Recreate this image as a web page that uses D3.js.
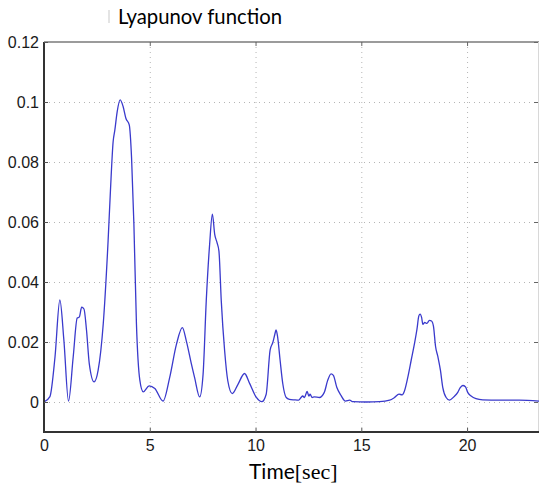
<!DOCTYPE html>
<html>
<head>
<meta charset="utf-8">
<script src="https://cdn.jsdelivr.net/npm/d3@7"></script>
<style>
  body { margin: 0; background: #fff; }
</style>
</head>
<body>
<div id="chart"></div>
<script>
// time (sec) and Lyapunov value
var timeValues = [0, 0.28, 0.52, 0.75, 0.94, 1.16, 1.38, 1.57, 1.67, 1.78, 1.89, 2.01, 2.14, 2.37, 2.56, 2.8,
    3.03, 3.14, 3.27, 3.35, 3.46, 3.6, 3.74, 3.87, 4.03, 4.14, 4.25, 4.37, 4.53, 4.69, 4.97, 5.24, 5.63,
    5.94, 6.26, 6.54, 6.73, 6.97, 7.12, 7.36, 7.52, 7.67, 7.83, 7.96, 8.07, 8.18, 8.27, 8.38, 8.54, 8.69,
    8.9, 9.17, 9.48, 9.72, 10.03, 10.3, 10.5, 10.69, 10.82, 10.91, 10.97, 11.04, 11.16, 11.29, 11.45, 11.6,
    11.84, 12.04, 12.15, 12.23, 12.31, 12.44, 12.52, 12.58, 12.67, 12.78, 13.02, 13.25, 13.41, 13.57, 13.68,
    13.84, 14.04, 14.25, 14.45, 14.6, 15.24, 15.86, 16.34, 16.57, 16.78, 16.93, 17.04, 17.2, 17.36, 17.52,
    17.63, 17.72, 17.78, 17.85, 17.91, 18.0, 18.1, 18.22, 18.32, 18.41, 18.51, 18.62, 18.74, 18.85, 19.01,
    19.17, 19.37, 19.56, 19.67, 19.8, 19.92, 20.03, 20.19, 20.42, 20.74, 21.53, 22.47, 23.41];

var lyapunovValues = [0, 0.0018, 0.015, 0.034, 0.0206, 0.0003, 0.015, 0.028, 0.0283, 0.0316, 0.031, 0.0239, 0.0128, 0.0067, 0.0106, 0.026,
    0.0537, 0.0703, 0.0869, 0.0907, 0.0968, 0.1007, 0.0985, 0.0946, 0.0924, 0.0813, 0.0592, 0.0261, 0.0073, 0.0034, 0.0054, 0.0045, 0.0003,
    0.0081, 0.0192, 0.0248, 0.0203, 0.0126, 0.0081, 0.0017, 0.0092, 0.0337, 0.0526, 0.0626, 0.0559, 0.0531, 0.0503, 0.0337, 0.017, 0.007,
    0.0028, 0.0059, 0.0095, 0.0062, 0.0016, 0.0001, 0.0025, 0.0174, 0.0199, 0.0225, 0.024, 0.0219, 0.014, 0.006, 0.0015, 0.0009,
    0.0007, 0.0006, 0.0015, 0.002, 0.0015, 0.0035, 0.002, 0.0026, 0.0015, 0.0017, 0.0015, 0.0032, 0.0072, 0.0094, 0.0089,
    0.0049, 0.0022, 0.0003, 0.0006, 0.0001, 0, 0.0001, 0.0006, 0.0015, 0.0026, 0.0024, 0.0037, 0.0083, 0.014, 0.0197,
    0.0242, 0.0287, 0.0293, 0.0282, 0.0259, 0.0265, 0.0262, 0.0272, 0.027, 0.0253, 0.0185, 0.0151, 0.0106, 0.0049, 0.0015,
    0.0006, 0.0017, 0.0032, 0.0047, 0.0055, 0.0051, 0.0032, 0.002, 0.0011, 0.0007, 0.0006, 0.0006, 0.0003];

var xTicks = [0, 5, 10, 15, 20];
var xTickLabels = ['0', '5', '10', '15', '20'];
var yTicks = [0, 0.02, 0.04, 0.06, 0.08, 0.1, 0.12];
var yTickLabels = ['0', '0.02', '0.04', '0.06', '0.08', '0.1', '0.12'];

var W = 539, H = 483;
var pLeft = 44, pRight = 539, pTop = 42, pBottom = 432;

var svg = d3.select('#chart')
    .append('svg')
    .attr('width', W)
    .attr('height', H);

var xScale = d3.scaleLinear()
    .domain([0, 23.4])
    .range([pLeft, pRight]);

var yScale = d3.scaleLinear()
    .domain([-0.01, 0.12])
    .range([pBottom, pTop]);

// dotted grid
var grid = svg.append('g');
grid.selectAll('.vgrid')
    .data(xTicks.slice(1))
    .enter()
    .append('line')
    .attr('x1', d => xScale(d) + 0.5)
    .attr('x2', d => xScale(d) + 0.5)
    .attr('y1', pTop)
    .attr('y2', pBottom)
    .attr('stroke', '#b5b5b5')
    .attr('stroke-width', 1)
    .attr('stroke-dasharray', '1,4');
grid.selectAll('.hgrid')
    .data(yTicks.slice(0, -1))
    .enter()
    .append('line')
    .attr('x1', pLeft)
    .attr('x2', pRight)
    .attr('y1', d => yScale(d) + 0.5)
    .attr('y2', d => yScale(d) + 0.5)
    .attr('stroke', '#b5b5b5')
    .attr('stroke-width', 1)
    .attr('stroke-dasharray', '1,4');

// frame top / right (lighter)
svg.append('line')
    .attr('x1', pLeft).attr('x2', pRight)
    .attr('y1', pTop).attr('y2', pTop)
    .attr('stroke', '#7a7a7a')
    .attr('stroke-width', 1.5);
svg.append('line')
    .attr('x1', pRight - 0.5).attr('x2', pRight - 0.5)
    .attr('y1', pTop).attr('y2', pBottom)
    .attr('stroke', '#d8d8d8')
    .attr('stroke-width', 1);

var topAxis = svg.append('g')
    .attr('transform', 'translate(0,' + pTop + ')')
    .call(d3.axisTop(xScale).tickValues(xTicks).tickSize(-4).tickSizeOuter(0).tickFormat(''));
var rightAxis = svg.append('g')
    .attr('transform', 'translate(' + (pRight - 1) + ',0)')
    .call(d3.axisRight(yScale).tickValues(yTicks).tickSize(-4).tickSizeOuter(0).tickFormat(''));
topAxis.select('.domain').remove();
rightAxis.select('.domain').remove();
topAxis.selectAll('line').attr('stroke', '#666');
rightAxis.selectAll('line').attr('stroke', '#666');

// curve
svg.append('clipPath')
    .attr('id', 'plotclip')
    .append('rect')
    .attr('x', pLeft)
    .attr('y', pTop)
    .attr('width', pRight - pLeft)
    .attr('height', pBottom - pTop);

var points = timeValues.map((t, i) => [t, lyapunovValues[i]]);

var line = d3.line()
    .x(d => xScale(d[0]))
    .y(d => yScale(d[1]))
    .curve(d3.curveMonotoneX);

svg.append('path')
    .datum(points)
    .attr('clip-path', 'url(#plotclip)')
    .attr('d', line)
    .attr('fill', 'none')
    .attr('stroke', '#3a3acc')
    .attr('stroke-width', 1.3);

// main axes
var xAxis = svg.append('g')
    .attr('transform', 'translate(0,' + pBottom + ')')
    .call(d3.axisBottom(xScale)
        .tickValues(xTicks)
        .tickFormat((d, i) => xTickLabels[i])
        .tickSize(-4)
        .tickSizeOuter(0)
        .tickPadding(8));

var yAxis = svg.append('g')
    .attr('transform', 'translate(' + pLeft + ',0)')
    .call(d3.axisLeft(yScale)
        .tickValues(yTicks)
        .tickFormat((d, i) => yTickLabels[i])
        .tickSize(-4)
        .tickSizeOuter(0)
        .tickPadding(5));

[xAxis, yAxis].forEach(function(ax) {
    ax.select('.domain')
        .attr('stroke', '#333')
        .attr('stroke-width', 2);
    ax.selectAll('.tick line').attr('stroke', '#555');
    ax.selectAll('text')
        .attr('font-family', '"Liberation Sans", Arial, sans-serif')
        .attr('font-size', '16px')
        .attr('fill', '#1a1a1a');
});
xAxis.select('.domain').attr('d', 'M' + (pLeft - 1) + ',0H' + pRight);
yAxis.select('.domain').attr('d', 'M0,' + pTop + 'V' + (pBottom + 1));

// title
svg.append('rect')
    .attr('x', 108)
    .attr('y', 10)
    .attr('width', 2)
    .attr('height', 13)
    .attr('fill', '#e4e4e4');

svg.append('text')
    .attr('x', 118)
    .attr('y', 24)
    .attr('font-family', 'Lato, "Open Sans", sans-serif')
    .attr('font-size', '21px')
    .attr('fill', '#000')
    .attr('textLength', 164)
    .attr('lengthAdjust', 'spacingAndGlyphs')
    .text('Lyapunov function');

// x label
var xlab = svg.append('text')
    .attr('x', 249)
    .attr('y', 479)
    .attr('fill', '#000');
xlab.append('tspan')
    .attr('font-family', 'Lato, "Open Sans", sans-serif')
    .attr('font-size', '21px')
    .text('Time');
xlab.append('tspan')
    .attr('font-family', '"Liberation Serif", "DejaVu Serif", serif')
    .attr('font-size', '22px')
    .text('[sec]');
</script>
</body>
</html>
